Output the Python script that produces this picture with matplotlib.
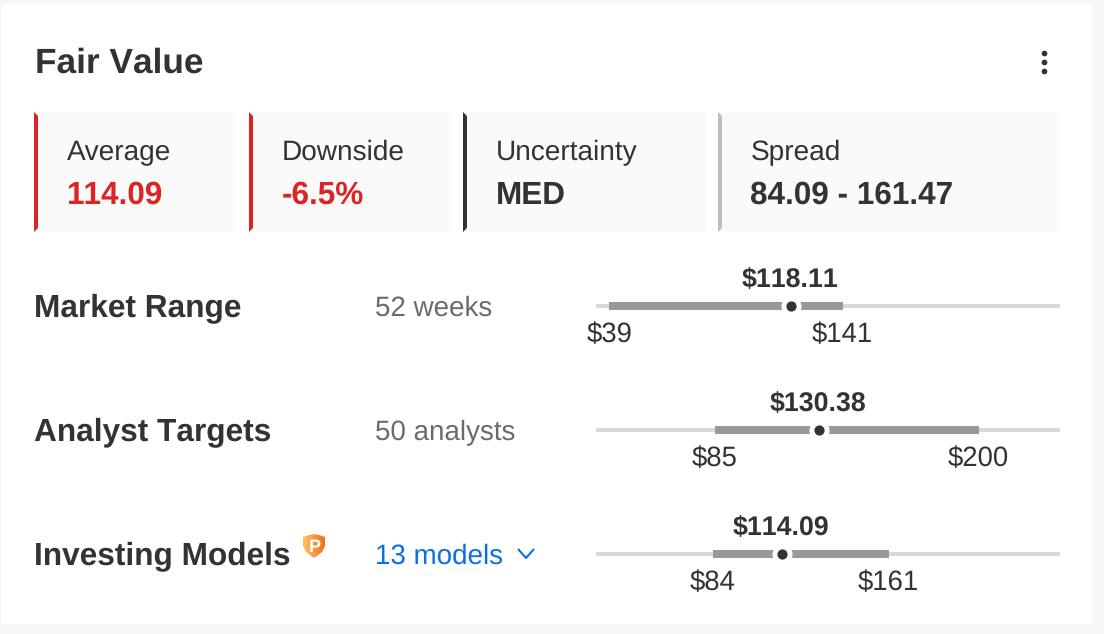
import numpy as np
import matplotlib
matplotlib.use('Agg')
import matplotlib.pyplot as plt
from matplotlib.patches import Polygon, Rectangle

plt.rcParams['font.family'] = ['Liberation Sans', 'DejaVu Sans']
plt.rcParams['text.kerning_factor'] = 8
plt.rcParams['text.hinting'] = 'no_hinting'

# summary cards
card_titles = ['Average', 'Downside', 'Uncertainty', 'Spread']
card_values = ['114.09', '-6.5%', 'MED', '84.09 - 161.47']
card_colors = ['#dc2424', '#dc2424', '#333333', '#bdbdbd']
card_value_colors = ['#dc2424', '#dc2424', '#333333', '#333333']
card_left = [34, 249, 463, 718]
card_right = [236, 451, 706, 1060]

# range rows
row_names = ['Market Range', 'Analyst Targets', 'Investing Models']
row_notes = ['52 weeks', '50 analysts', '13 models']
row_lows = [39, 85, 84]
row_highs = [141, 200, 161]
row_current = [118.11, 130.38, 114.09]
row_y = [306, 430, 554]

DARK = '#333333'
BLUE = '#0d6fe8'

fig = plt.figure(figsize=(11.04, 6.34), dpi=100, facecolor='#f7f7f7')

# whole figure axes, in pixels, for the card layout
ax = fig.add_axes([0, 0, 1, 1])
ax.set_xlim(0, 1104)
ax.set_ylim(634, 0)
ax.axis('off')

ax.add_patch(Rectangle((2, 4), 1090, 620, fc='white', ec='none'))
ax.text(35, 73, 'Fair Value', fontsize=25.4, fontweight='bold', color=DARK, va='baseline')

# three dots menu
ax.scatter([1044, 1044, 1044], [52.7, 62, 71], s=17, color=DARK, linewidths=0)

for i in range(len(card_titles)):
    l, r = card_left[i], card_right[i]
    ax.add_patch(Rectangle((l, 112), r - l, 120, fc='#fafafa', ec='none'))
    ax.add_patch(Polygon([(l, 112), (l + 4, 116), (l + 4, 228), (l, 232)], fc=card_colors[i], ec='none'))
    ax.text(l + 32.5, 160, card_titles[i], fontsize=20.2, color=DARK, va='baseline')
    ax.text(l + 32.5, 203.5, card_values[i], fontsize=22.7, fontweight='bold',
            color=card_value_colors[i], va='baseline')

for i in range(len(row_names)):
    ax.text(34.5, row_y[i] + 10, row_names[i], fontsize=22.8, fontweight='bold', color=DARK, va='baseline')
    note_color = BLUE if i == 2 else '#6b6b6b'
    ax.text(375, row_y[i] + 10, row_notes[i], fontsize=20, color=note_color, va='baseline')

# chevron next to 13 models
ax.plot([518.5, 526, 533.5], [549.5, 558, 549.5], color=BLUE, lw=1.5, solid_capstyle='round')

# pro shield, orange gradient clipped to the outline
shield = Polygon([(303, 537), (309, 535), (314, 534), (319, 535), (325, 537), (325, 546),
                  (322, 552), (314, 558), (306, 552), (303, 546)],
                 transform=ax.transData, fc='none', ec='none')
ax.add_patch(shield)
im = ax.imshow(np.linspace(0, 1, 30).reshape(1, -1), extent=(303, 325, 558, 534), aspect='auto',
               cmap=matplotlib.colors.LinearSegmentedColormap.from_list('pro', ['#fdc45e', '#f2701f']),
               zorder=2)
im.set_clip_path(shield)
ax.set_xlim(0, 1104)
ax.set_ylim(634, 0)
ax.text(314.5, 552, 'P', fontsize=13, fontweight='bold', color='white', ha='center', va='baseline', zorder=3)

# dollar axes for the range bars, same scale on every row
ax2 = fig.add_axes([596 / 1104, 0, 464 / 1104, 1])
ax2.patch.set_alpha(0)
ax2.set_xlim(33.2, 235.3)
ax2.set_ylim(634, 0)
ax2.axis('off')

for i in range(len(row_y)):
    y = row_y[i]
    ax2.axhline(y, color='#d9d9d9', lw=2.9, solid_capstyle='butt', zorder=1)
    ax2.hlines(y, row_lows[i], row_highs[i], color='#999999', lw=5.76, capstyle='butt', zorder=2)
    ax2.scatter([row_current[i]], [y], s=207, color='white', linewidths=0, zorder=3)
    ax2.scatter([row_current[i]], [y], s=54, color=DARK, linewidths=0, zorder=4)
    ax2.text(row_current[i] - 0.4, y - 19, f'${row_current[i]:.2f}', fontsize=19.3, fontweight='bold',
             color=DARK, ha='center', va='baseline', clip_on=False)
    ax2.text(row_lows[i], y + 36, f'${row_lows[i]}', fontsize=19.8, color=DARK,
             ha='center', va='baseline', clip_on=False)
    ax2.text(row_highs[i] - 0.4, y + 36, f'${row_highs[i]}', fontsize=19.8, color=DARK,
             ha='center', va='baseline', clip_on=False)

fig.savefig('out.png', dpi=100, facecolor=fig.get_facecolor())
